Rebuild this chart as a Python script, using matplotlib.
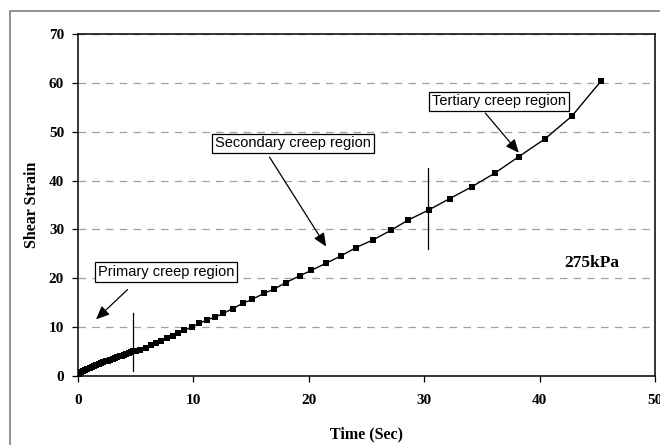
from matplotlib import pyplot as plt
from matplotlib.patches import Rectangle

# creep test at 275 kPa
timeSec = [0.0, 0.1, 0.25, 0.4, 0.6, 0.8, 1.0, 1.2, 1.4, 1.6, 1.8, 2.0, 2.2, 2.4,
           2.6, 2.8, 3.0, 3.2, 3.4, 3.6, 3.8, 4.0, 4.2, 4.4, 4.6, 4.8, 5.0,
           5.4, 5.9, 6.3, 6.8, 7.2, 7.7, 8.2, 8.7, 9.2, 9.9, 10.5, 11.2, 11.9,
           12.6, 13.4, 14.3, 15.1, 16.1, 17.0, 18.0, 19.2, 20.2, 21.5, 22.8,
           24.1, 25.6, 27.1, 28.6, 30.4, 32.2, 34.1, 36.1, 38.2, 40.5, 42.8, 45.3]
shearStrain = [0.3, 0.5, 0.8, 1.0, 1.2, 1.4, 1.6, 1.8, 2.0, 2.2, 2.4, 2.6, 2.8, 3.0,
               3.1, 3.3, 3.5, 3.7, 3.9, 4.0, 4.2, 4.4, 4.6, 4.8, 5.0, 5.1, 5.2,
               5.4, 5.8, 6.3, 6.8, 7.2, 7.7, 8.2, 8.9, 9.4, 10.0, 10.8, 11.5, 12.1,
               12.8, 13.8, 14.9, 15.7, 16.9, 17.8, 19.1, 20.5, 21.6, 23.1, 24.6,
               26.3, 27.9, 29.8, 31.9, 34.0, 36.3, 38.7, 41.5, 44.9, 48.6, 53.2, 60.3]

xTicks = [0, 10, 20, 30, 40, 50]
yTicks = [0, 10, 20, 30, 40, 50, 60, 70]

# region labels: text, box position, arrow head
regionNames = ['Primary creep region', 'Secondary creep region', 'Tertiary creep region']
regionTextPos = [(1.7, 21.3), (11.9, 47.6), (30.7, 56.2)]
regionArrowTail = [(4.3, 17.7), (16.6, 44.8), (35.3, 53.8)]
regionArrowHead = [(1.56, 11.6), (21.5, 26.5), (38.2, 45.7)]

# boundaries between regions
boundaryX = [4.74, 30.35]
boundaryLow = [1.1, 25.9]
boundaryHigh = [12.8, 42.5]

serif = 'Liberation Serif'
sans = 'Liberation Sans'

fig = plt.figure(figsize=(6.6, 4.45), dpi=100)
ax = fig.add_axes([0.1182, 0.155, 0.8742, 0.7686])

# outer frame of the chart area
fig.patches.append(Rectangle((10 / 660, -0.1), 1.2, (445 - 11) / 445 + 0.1,
                             transform=fig.transFigure, fill=False,
                             edgecolor='#808080', linewidth=1.2))

ax.plot(timeSec, shearStrain, color='black', linewidth=1.0,
        marker='s', markersize=3.8, markerfacecolor='black', markeredgewidth=0)

for bx, lo, hi in zip(boundaryX, boundaryLow, boundaryHigh):
    ax.plot([bx, bx], [lo, hi], color='black', linewidth=0.9)

for name, tpos, tail, head in zip(regionNames, regionTextPos, regionArrowTail, regionArrowHead):
    ax.text(tpos[0], tpos[1], name, fontsize=10.5, family=sans, va='center', ha='left',
            bbox=dict(boxstyle='square,pad=0.2', facecolor='white',
                      edgecolor='black', linewidth=0.9))
    ax.annotate('', xy=head, xytext=tail,
                arrowprops=dict(arrowstyle='-|>,head_length=0.8,head_width=0.35',
                                color='black', linewidth=0.9, shrinkA=0, shrinkB=0))

ax.text(44.5, 23.2, '275kPa', fontsize=12.5, family=serif, fontweight='bold',
        ha='center', va='center')

ax.set_xlim(0, 50)
ax.set_ylim(0, 70)
ax.set_xticks(xTicks)
ax.set_yticks(yTicks)
ax.set_xticklabels([str(v) for v in xTicks], family=serif, fontweight='bold', fontsize=11)
ax.set_yticklabels([str(v) for v in yTicks], family=serif, fontweight='bold', fontsize=11)
ax.tick_params(direction='out', length=4, width=0.9, colors='black')
ax.tick_params(axis='x', pad=9)
ax.tick_params(axis='y', pad=6)

ax.yaxis.grid(True, linestyle=(0, (6, 5)), color='#a0a0a0', linewidth=0.9)
ax.set_axisbelow(True)
for side in ax.spines.values():
    side.set_linewidth(1.1)
    side.set_color('black')

ax.set_xlabel('Time (Sec)', family=serif, fontweight='bold', fontsize=11.5, labelpad=14)
ax.set_ylabel('Shear Strain', family=serif, fontweight='bold', fontsize=11.5, labelpad=6)

plt.savefig('out.png', dpi=100)
